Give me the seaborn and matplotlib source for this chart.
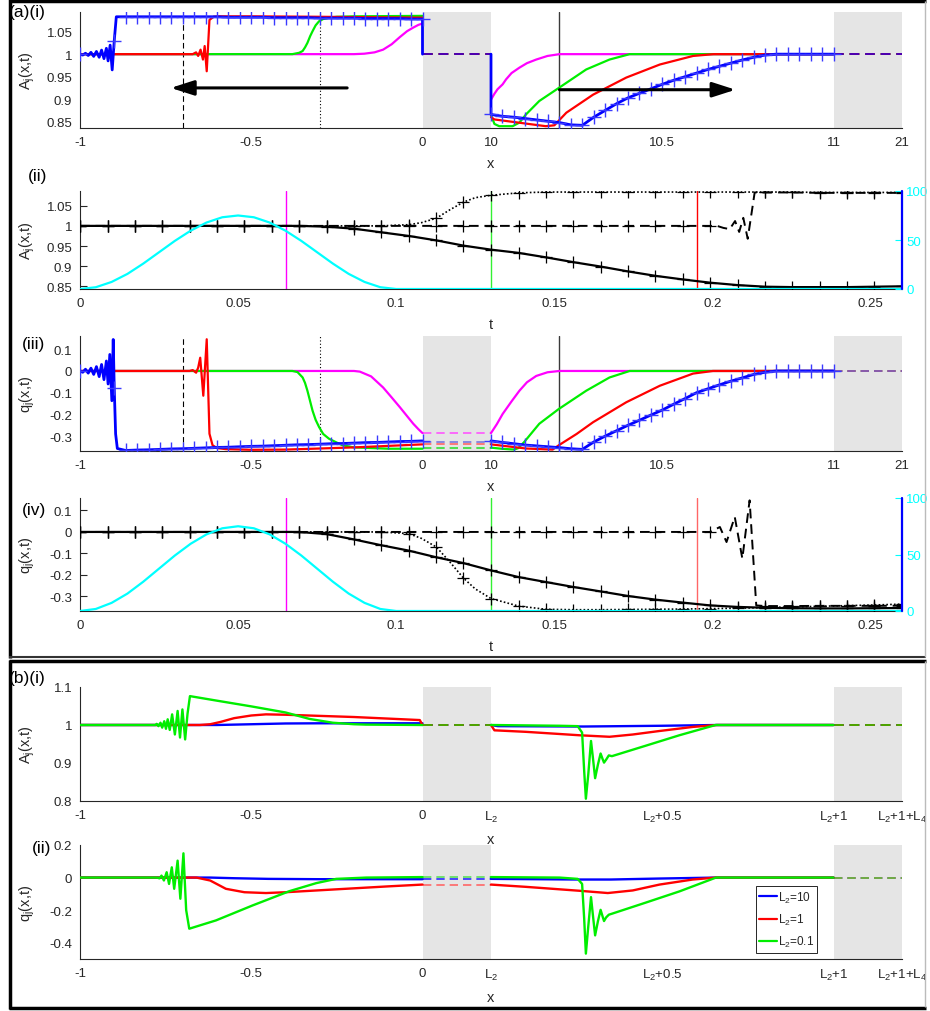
import numpy as np
import pandas as pd
import matplotlib
matplotlib.use("Agg")
import matplotlib.pyplot as plt
import seaborn as sns
from matplotlib.lines import Line2D

sns.set_style("white")
plt.rcParams["font.family"] = ["Liberation Sans", "DejaVu Sans"]
plt.rcParams["mathtext.default"] = "regular"

# ============================ DATA ============================
# tick labels of the composite x axis (pipe 1 | gap pipe | pipe 3 | gap pipe)
xtick_labels_a = ["-1", "-0.5", "0", "10", "10.5", "11", "21"]
xtick_labels_b = ["-1", "-0.5", "0", "L$_2$", "L$_2$+0.5", "L$_2$+1", "L$_2$+1+L$_4$"]
t_ticks = [0, 0.05, 0.1, 0.15, 0.2, 0.25]
t_tick_labels = ["0", "0.05", "0.1", "0.15", "0.2", "0.25"]

# grids where the '+' markers sit
x1_grid = [-1.0, -0.9667, -0.9333, -0.9, -0.8667, -0.8333, -0.8, -0.7667, -0.7333, -0.7,
           -0.6667, -0.6333, -0.6, -0.5667, -0.5333, -0.5, -0.4667, -0.4333, -0.4, -0.3667,
           -0.3333, -0.3, -0.2667, -0.2333, -0.2, -0.1667, -0.1333, -0.1, -0.0667, -0.0333, 0.0]
x3_grid = [10.0, 10.0333, 10.0667, 10.1, 10.1333, 10.1667, 10.2, 10.2333, 10.2667, 10.3,
           10.3333, 10.3667, 10.4, 10.4333, 10.4667, 10.5, 10.5333, 10.5667, 10.6, 10.6333,
           10.6667, 10.7, 10.7333, 10.7667, 10.8, 10.8333, 10.8667, 10.9, 10.9333, 10.9667, 11.0]
t_grid = [0, 0.0087, 0.0173, 0.026, 0.0347, 0.0433, 0.052, 0.0607, 0.0693, 0.078, 0.0867,
          0.0953, 0.104, 0.1127, 0.1213, 0.13, 0.1387, 0.1473, 0.156, 0.1647, 0.1733, 0.182,
          0.1907, 0.1993, 0.208, 0.2167, 0.2253, 0.234, 0.2427, 0.2513, 0.26]

# probe positions / snapshot times
probe_dashed_x = -0.7
probe_dotted_x = -0.3
probe_solid_x = 10.2
snap_t = [0.065, 0.13, 0.195, 0.26]

# ---------- (a)(i) A_j(x,t) ----------
# magenta
A_m_x1 = [-1.0, -0.2, -0.17, -0.14, -0.115, -0.09, -0.066, -0.045, -0.027, -0.012, 0.0]
A_m_y1 = [1.0, 1.0, 1.001, 1.004, 1.01, 1.022, 1.038, 1.051, 1.059, 1.065, 1.068]
A_m_x3 = [10.0, 10.01, 10.019, 10.034, 10.044, 10.06, 10.083, 10.105, 10.132, 10.165, 10.2, 11.0]
A_m_y3 = [0.899, 0.912, 0.922, 0.933, 0.944, 0.958, 0.97, 0.98, 0.988, 0.996, 1.0, 1.0]
# green
A_g_x1 = [-1.0, -0.38, -0.36, -0.35, -0.343, -0.336, -0.328, -0.321, -0.312, -0.302, -0.29,
          -0.273, -0.25, -0.2, 0.0]
A_g_y1 = [1.0, 1.0, 1.003, 1.007, 1.015, 1.025, 1.04, 1.051, 1.064, 1.073, 1.078, 1.081,
          1.083, 1.084, 1.085]
A_g_x3 = [10.0, 10.01, 10.024, 10.063, 10.083, 10.102, 10.141, 10.198, 10.278, 10.346, 10.405, 11.0]
A_g_y3 = [0.865, 0.845, 0.84, 0.84, 0.848, 0.866, 0.896, 0.925, 0.966, 0.988, 1.0, 1.0]
# red
A_r_x1 = [-1.0, -0.68, -0.671, -0.661, -0.655, -0.648, -0.641, -0.636, -0.63, -0.622, -0.61,
          -0.593, -0.5, -0.3, 0.0]
A_r_y1 = [1.0, 1.0, 1.0, 1.004, 0.996, 1.01, 0.988, 1.018, 0.962, 1.076, 1.083, 1.084, 1.084,
          1.083, 1.081]
A_r_x3 = [10.0, 10.01, 10.1, 10.16, 10.185, 10.22, 10.298, 10.395, 10.493, 10.59, 10.65, 11.0]
A_r_y3 = [0.86, 0.855, 0.846, 0.84, 0.842, 0.87, 0.91, 0.948, 0.977, 0.996, 1.0, 1.0]
# blue (with markers)
A_b_x1 = [-1.0, -0.992, -0.984, -0.976, -0.968, -0.96, -0.952, -0.944, -0.937, -0.93, -0.923,
          -0.918, -0.912, -0.906, -0.9, -0.894,
          -0.8667, -0.8333, -0.8, -0.7667, -0.7333, -0.7, -0.6667, -0.6333, -0.6, -0.5667,
          -0.5333, -0.5, -0.4667, -0.4333, -0.4, -0.3667, -0.3333, -0.3, -0.2667, -0.2333,
          -0.2, -0.1667, -0.1333, -0.1, -0.0667, -0.0333, 0.0, 0.0]
A_b_y1 = [1.0, 0.998, 1.002, 0.997, 1.004, 0.995, 1.006, 0.993, 1.009, 0.99, 1.013, 0.985,
          1.02, 0.965, 1.03, 1.083,
          1.083, 1.083, 1.083, 1.083, 1.083, 1.083, 1.083, 1.083, 1.083, 1.082, 1.082, 1.082,
          1.082, 1.081, 1.081, 1.081, 1.081, 1.080, 1.080, 1.080, 1.080, 1.079, 1.079, 1.079,
          1.079, 1.078, 1.078, 1.0]
A_b_x3 = [10.0, 10.0, 10.0333, 10.0667, 10.1, 10.1333, 10.1667, 10.2, 10.2333, 10.2667, 10.3,
          10.3333, 10.3667, 10.4, 10.4333, 10.4667, 10.5, 10.5333, 10.5667, 10.6, 10.6333,
          10.6667, 10.7, 10.7333, 10.7667, 10.8, 10.8333, 10.8667, 10.9, 10.9333, 10.9667, 11.0]
A_b_y3 = [1.0, 0.866, 0.862, 0.860, 0.857, 0.854, 0.851, 0.848, 0.843, 0.842, 0.860, 0.875,
          0.890, 0.903, 0.913, 0.923, 0.933, 0.942, 0.950, 0.958, 0.966, 0.973, 0.980, 0.987,
          0.993, 0.998, 1.0, 1.0, 1.0, 1.0, 1.0, 1.0]
A_gap = [1.0, 1.0, 1.0, 1.0]          # magenta, green, red, blue inside gap pipes

# ---------- (a)(iii) q_j(x,t) ----------
q_m_x1 = [-1.0, -0.2, -0.183, -0.15, -0.115, -0.09, -0.066, -0.045, -0.027, -0.012, 0.0]
q_m_y1 = [0.0, 0.0, -0.003, -0.025, -0.076, -0.122, -0.167, -0.208, -0.243, -0.268, -0.286]
q_m_x3 = [10.0, 10.017, 10.034, 10.06, 10.083, 10.105, 10.132, 10.165, 10.2, 11.0]
q_m_y3 = [-0.286, -0.245, -0.198, -0.14, -0.091, -0.052, -0.023, -0.006, 0.0, 0.0]
q_g_x1 = [-1.0, -0.38, -0.365, -0.35, -0.343, -0.336, -0.328, -0.321, -0.312, -0.302, -0.29,
          -0.273, -0.25, -0.234, -0.2, -0.1, 0.0]
q_g_y1 = [0.0, 0.0, -0.005, -0.03, -0.055, -0.091, -0.14, -0.183, -0.225, -0.258, -0.29,
          -0.312, -0.33, -0.342, -0.352, -0.358, -0.358]
q_g_x3 = [10.0, 10.03, 10.068, 10.08, 10.097, 10.12, 10.141, 10.198, 10.278, 10.346, 10.405, 11.0]
q_g_y3 = [-0.353, -0.358, -0.362, -0.355, -0.327, -0.283, -0.243, -0.175, -0.091, -0.03, 0.0, 0.0]
q_r_x1 = [-1.0, -0.68, -0.671, -0.661, -0.655, -0.649, -0.64, -0.63, -0.622, -0.613, -0.6,
          -0.574, -0.5, -0.4, -0.2, 0.0]
q_r_y1 = [0.0, 0.0, 0.004, -0.008, 0.015, 0.061, -0.114, 0.146, -0.289, -0.342, -0.355, -0.36,
          -0.363, -0.362, -0.352, -0.338]
q_r_x3 = [10.0, 10.102, 10.18, 10.198, 10.25, 10.298, 10.395, 10.493, 10.59, 10.648, 11.0]
q_r_y3 = [-0.338, -0.357, -0.362, -0.342, -0.29, -0.236, -0.144, -0.068, -0.012, 0.0, 0.0]
q_b_x1 = [-1.0, -0.992, -0.984, -0.976, -0.968, -0.96, -0.952, -0.944, -0.937, -0.93, -0.923,
          -0.918, -0.913, -0.907, -0.903, -0.9, -0.896, -0.891,
          -0.8667, -0.8333, -0.8, -0.7667, -0.7333, -0.7, -0.6667, -0.6333, -0.6, -0.5667,
          -0.5333, -0.5, -0.4667, -0.4333, -0.4, -0.3667, -0.3333, -0.3, -0.2667, -0.2333,
          -0.2, -0.1667, -0.1333, -0.1, -0.0667, -0.0333, 0.0]
q_b_y1 = [0.0, -0.006, 0.008, -0.01, 0.013, -0.016, 0.02, -0.026, 0.03, -0.04, 0.046, -0.06,
          0.076, -0.137, 0.145, -0.08, -0.29, -0.357,
          -0.366, -0.364, -0.363, -0.361, -0.359, -0.358, -0.356, -0.354, -0.352, -0.351,
          -0.349, -0.347, -0.346, -0.344, -0.342, -0.340, -0.339, -0.337, -0.335, -0.334,
          -0.332, -0.330, -0.329, -0.327, -0.325, -0.324, -0.322]
q_b_x3 = x3_grid
q_b_y3 = [-0.322, -0.329, -0.335, -0.341, -0.345, -0.349, -0.353, -0.358, -0.361, -0.327,
          -0.30, -0.275, -0.25, -0.227, -0.203, -0.18, -0.153, -0.127, -0.10, -0.082, -0.064,
          -0.047, -0.032, -0.016, -0.006, 0.0, 0.0, 0.0, 0.0, 0.0, 0.0]
q_gap_left = [-0.286, -0.355, -0.338, -0.325]   # magenta, green, red, blue
q_gap_right = [0.0, 0.0, 0.0, 0.0]

# ---------- (a)(ii) A at probes vs t ----------
A_solid = [1.0, 1.0, 1.0, 1.0, 1.0, 1.0, 1.0, 1.0, 1.0, 0.998, 0.993, 0.984, 0.975, 0.964,
           0.951, 0.941, 0.933, 0.922, 0.91, 0.899, 0.887, 0.876, 0.867, 0.859, 0.853, 0.849,
           0.848, 0.848, 0.848, 0.849, 0.85]
A_dotted_t = [0, 0.0087, 0.0173, 0.026, 0.0347, 0.0433, 0.052, 0.0607, 0.0693, 0.078, 0.0867,
              0.0953, 0.104, 0.108, 0.1127, 0.117, 0.1213, 0.125, 0.13, 0.1387, 0.1473, 0.156,
              0.1647, 0.1733, 0.182, 0.1907, 0.1993, 0.208, 0.2167, 0.2253, 0.234, 0.2427,
              0.2513, 0.26]
A_dotted = [1.0, 1.0, 1.0, 1.0, 1.0, 1.0, 1.0, 1.0, 1.0, 1.0, 1.0, 1.0, 1.003, 1.008, 1.019,
            1.04, 1.059, 1.07, 1.076, 1.082, 1.084, 1.084, 1.084, 1.084, 1.084, 1.084, 1.084,
            1.084, 1.084, 1.084, 1.083, 1.083, 1.083, 1.083]
A_dashed_t = [0, 0.0087, 0.0173, 0.026, 0.0347, 0.0433, 0.052, 0.0607, 0.0693, 0.078, 0.0867,
              0.0953, 0.104, 0.1127, 0.1213, 0.13, 0.1387, 0.1473, 0.156, 0.1647, 0.1733,
              0.182, 0.1907, 0.1993, 0.2015, 0.2035, 0.2055, 0.2072, 0.2085, 0.2098, 0.2112,
              0.2134, 0.2167, 0.2253, 0.234, 0.2427, 0.2513, 0.26]
A_dashed = [1.0, 1.0, 1.0, 1.0, 1.0, 1.0, 1.0, 1.0, 1.0, 1.0, 1.0, 1.0, 1.0, 1.0, 1.0, 1.0,
            1.0, 1.0, 1.0, 1.0, 1.0, 1.0, 1.0, 1.0, 1.0, 0.995, 0.992, 1.012, 0.985, 1.02,
            0.968, 1.083, 1.083, 1.083, 1.082, 1.082, 1.082, 1.082]

# ---------- (a)(iv) q at probes vs t ----------
q_solid = [0.0, 0.0, 0.0, 0.0, 0.0, 0.0, 0.0, 0.0, 0.0, -0.01, -0.035, -0.062, -0.087, -0.118,
           -0.145, -0.179, -0.21, -0.233, -0.256, -0.277, -0.298, -0.315, -0.329, -0.342,
           -0.349, -0.353, -0.355, -0.356, -0.356, -0.355, -0.354]
q_dotted = [0.0, 0.0, 0.0, 0.0, 0.0, 0.0, 0.0, 0.0, 0.0, 0.0, 0.0, 0.0, -0.008, -0.03, -0.07,
            -0.14, -0.215, -0.265, -0.31, -0.345, -0.36, -0.362, -0.362, -0.361, -0.36,
            -0.359, -0.357, -0.355, -0.352, -0.349, -0.346, -0.343, -0.340, -0.336]
q_dashed_t = [0, 0.0087, 0.0173, 0.026, 0.0347, 0.0433, 0.052, 0.0607, 0.0693, 0.078, 0.0867,
              0.0953, 0.104, 0.1127, 0.1213, 0.13, 0.1387, 0.1473, 0.156, 0.1647, 0.1733,
              0.182, 0.1907, 0.1993, 0.2024, 0.2045, 0.2071, 0.2095, 0.2118, 0.2139, 0.2167,
              0.2253, 0.234, 0.2427, 0.2513, 0.26]
q_dashed = [0.0, 0.0, 0.0, 0.0, 0.0, 0.0, 0.0, 0.0, 0.0, 0.0, 0.0, 0.0, 0.0, 0.0, 0.0, 0.0,
            0.0, 0.0, 0.0, 0.0, 0.0, 0.0, 0.0, 0.0, 0.023, -0.047, 0.07, -0.124, 0.147, -0.342,
            -0.345, -0.345, -0.344, -0.344, -0.344, -0.343]

# inflow pulse (right axis, %)
t_pulse = [0, 0.005, 0.01, 0.015, 0.02, 0.025, 0.03, 0.035, 0.04, 0.045, 0.05, 0.055, 0.06,
           0.065, 0.07, 0.075, 0.08, 0.085, 0.09, 0.095, 0.1, 0.26]
pulse = [0, 1.8, 7.2, 15.4, 25.9, 37.5, 49.1, 59.5, 67.8, 73.2, 75.0, 73.2, 67.8, 59.5, 49.1,
         37.5, 25.9, 15.4, 7.2, 1.8, 0, 0]

# ---------- (b) comparison of L2 ----------
legend_labels = ["L$_2$=10", "L$_2$=1", "L$_2$=0.1"]
# (b)(i) A; pipe-3 abscissa given as offset s = x - L2
bA_blue_x1 = [-1.0, -0.6, -0.5, -0.4, -0.3, 0.0]
bA_blue_y1 = [1.0, 1.0, 1.002, 1.004, 1.0045, 1.0045]
bA_blue_s3 = [0.0, 0.02, 0.27, 0.5, 0.66, 1.0]
bA_blue_y3 = [1.0, 0.997, 0.996, 0.998, 1.0, 1.0]
bA_red_x1 = [-1.0, -0.65, -0.62, -0.59, -0.55, -0.5, -0.457, -0.4, -0.2, -0.008, 0.0]
bA_red_y1 = [1.0, 1.0, 1.002, 1.008, 1.018, 1.025, 1.028, 1.027, 1.021, 1.013, 1.0]
bA_red_s3 = [0.0, 0.01, 0.102, 0.258, 0.346, 0.414, 0.49, 0.59, 0.66, 1.0]
bA_red_y3 = [1.0, 0.986, 0.982, 0.973, 0.969, 0.975, 0.984, 0.995, 1.0, 1.0]
bA_green_x1 = [-1.0, -0.78, -0.776, -0.771, -0.765, -0.76, -0.754, -0.749, -0.744, -0.738,
               -0.731, -0.723, -0.715, -0.708, -0.701, -0.693, -0.686, -0.679, -0.6, -0.5,
               -0.4, -0.33, -0.262, -0.2, -0.165, 0.0]
bA_green_y1 = [1.0, 1.0, 1.003, 0.997, 1.006, 0.993, 1.01, 0.99, 1.015, 0.987, 1.028, 0.975,
               1.037, 0.967, 1.041, 0.962, 1.03, 1.076, 1.064, 1.049, 1.033, 1.016, 1.006,
               1.002, 1.001, 1.0]
bA_green_s3 = [0.0, 0.1, 0.2, 0.253, 0.266, 0.272, 0.277, 0.284, 0.292, 0.298, 0.304, 0.312,
               0.32, 0.326, 0.33, 0.337, 0.344, 0.353, 0.45, 0.55, 0.656, 1.0]
bA_green_y3 = [1.0, 0.999, 0.998, 0.997, 0.98, 0.88, 0.806, 0.87, 0.958, 0.91, 0.86, 0.895,
               0.925, 0.91, 0.901, 0.91, 0.92, 0.918, 0.945, 0.973, 1.0, 1.0]
bA_gap = [1.0, 1.0, 1.0]              # blue, red, green
# (b)(ii) q
bq_blue_x1 = [-1.0, -0.62, -0.55, -0.45, -0.3, 0.0]
bq_blue_y1 = [0.0, 0.0, -0.004, -0.008, -0.01, -0.01]
bq_blue_s3 = [0.0, 0.26, 0.35, 0.49, 0.66, 1.0]
bq_blue_y3 = [-0.008, -0.012, -0.012, -0.006, 0.0, 0.0]
bq_red_x1 = [-1.0, -0.66, -0.62, -0.574, -0.52, -0.457, -0.4, -0.3, -0.2, -0.1, 0.0]
bq_red_y1 = [0.0, 0.0, -0.018, -0.069, -0.09, -0.095, -0.09, -0.078, -0.066, -0.054, -0.043]
bq_red_s3 = [0.0, 0.102, 0.258, 0.341, 0.414, 0.492, 0.589, 0.657, 1.0]
bq_red_y3 = [-0.043, -0.057, -0.081, -0.095, -0.079, -0.043, -0.012, 0.0, 0.0]
bq_green_x1 = [-1.0, -0.775, -0.768, -0.762, -0.755, -0.747, -0.74, -0.732, -0.725, -0.715,
               -0.707, -0.698, -0.69, -0.681, -0.603, -0.496, -0.388, -0.31, -0.252, -0.164, 0.0]
bq_green_y1 = [0.0, 0.0, -0.005, 0.012, -0.018, 0.033, -0.039, 0.063, -0.069, 0.104, -0.13,
               0.149, -0.2, -0.314, -0.263, -0.171, -0.083, -0.034, -0.008, 0.0, 0.003]
bq_green_s3 = [0.0, 0.2, 0.253, 0.266, 0.272, 0.277, 0.284, 0.292, 0.298, 0.304, 0.312, 0.32,
               0.326, 0.33, 0.336, 0.344, 0.353, 0.45, 0.55, 0.657, 1.0]
bq_green_y3 = [0.003, 0.0, -0.008, -0.039, -0.25, -0.467, -0.3, -0.12, -0.24, -0.355, -0.27,
               -0.198, -0.24, -0.267, -0.245, -0.228, -0.222, -0.155, -0.085, 0.0, 0.0]
bq_gap_left = [-0.008, -0.043, 0.003]   # blue, red, green
bq_gap_right = [0.0, 0.0, 0.0]

# annotation arrows (start, end, level)
arrow_left = (-0.22, -0.735, 0.925)
arrow_right = (10.2, 10.714, 0.921)

# ============================ STYLE / LAYOUT ============================
MAG, GRN, RED, BLU, CYA = "#ff00ff", "#00ee00", "#ff0000", "#0000ff", "#00ffff"
AXC = "#262626"
GRAY = "#e5e5e5"
W, H = 930, 1012
XT_POS = [-1, -0.5, 0, 0.2, 0.7, 1.2, 1.4]    # positions of composite ticks
GAP_L, P3_0, GAP_R = (0.0, 0.2), 0.2, (1.2, 1.4)


def u3(x):
    """pipe-3 physical x -> composite axis coordinate"""
    return P3_0 + (np.asarray(x, float) - 10.0)


def u3s(s):
    return P3_0 + np.asarray(s, float)


def rect(top, bottom, left=80, right=902):
    return [left / W, 1 - bottom / H, (right - left) / W, (bottom - top) / H]


def draw(ax, x, y, color, lw=1.6, ls="-", alpha=1.0, z=3):
    sns.lineplot(x=np.asarray(x, float), y=np.asarray(y, float), ax=ax, color=color,
                 linewidth=lw, linestyle=ls, alpha=alpha, sort=False, estimator=None,
                 legend=False, zorder=z)


def plus(ax, x, y, color, s=60, lw=1.0, z=4):
    sns.scatterplot(x=np.asarray(x, float), y=np.asarray(y, float), ax=ax, marker="+",
                    s=s, color=color, linewidth=lw, legend=False, zorder=z)


def grid_mask(x, grid, keep="first"):
    x = np.asarray(x, float)
    g = np.asarray(grid, float)
    on = np.array([np.min(np.abs(g - v)) < 5e-4 for v in x])
    dup = pd.Series(np.round(x, 4)).duplicated(keep=keep).to_numpy()
    return on & ~dup


def style(ax, xlim, xticks, xlabels, ylim, yticks, ylabels, xlabel, ylabel):
    ax.set_xlim(*xlim)
    ax.set_ylim(*ylim)
    ax.set_xticks(xticks)
    ax.set_xticklabels(xlabels)
    ax.set_yticks(yticks)
    ax.set_yticklabels(ylabels)
    for s in ("top", "right"):
        ax.spines[s].set_visible(False)
    for s in ("left", "bottom"):
        ax.spines[s].set_color(AXC)
        ax.spines[s].set_linewidth(0.8)
    ax.tick_params(direction="in", length=5, width=0.8, colors=AXC, labelsize=9.5, pad=5.5)
    ax.set_xlabel(xlabel, fontsize=10.5, color=AXC, labelpad=6)
    ax.set_ylabel(ylabel, fontsize=10.5, color=AXC)
    ax.yaxis.set_label_coords(-0.052, 0.5)


def gaps(ax):
    ax.axvspan(*GAP_L, color=GRAY, lw=0, zorder=0)
    ax.axvspan(*GAP_R, color=GRAY, lw=0, zorder=0)


def gap_lines(ax, values_left, values_right, colors, lw=1.3):
    n = len(colors)
    for i, (vl, vr, c) in enumerate(zip(values_left, values_right, colors)):
        a = 0.7 if i == n - 1 else 1.0
        draw(ax, list(GAP_L), [vl, vl], c, lw=lw, ls=(0, (5, 3)), alpha=a, z=2)
        draw(ax, list(GAP_R), [vr, vr], c, lw=lw, ls=(0, (5, 3)), alpha=a, z=2)


def probes(ax):
    ax.axvline(probe_dashed_x, color="k", lw=0.8, ls=(0, (5, 3)), zorder=2)
    ax.axvline(probe_dotted_x, color="k", lw=0.8, ls=(0, (1, 2)), zorder=2)
    ax.axvline(float(u3(probe_solid_x)), color="#3a3a3a", lw=1.0, zorder=2)


fig = plt.figure(figsize=(W / 100, H / 100), dpi=100)

# ---------------- (a)(i) ----------------
ax = fig.add_axes(rect(13, 129))
gaps(ax)
probes(ax)
gap_lines(ax, A_gap, A_gap, [MAG, GRN, RED, BLU], lw=1.4)
for x1, y1, x3, y3, c in [(A_m_x1, A_m_y1, A_m_x3, A_m_y3, MAG),
                          (A_g_x1, A_g_y1, A_g_x3, A_g_y3, GRN),
                          (A_r_x1, A_r_y1, A_r_x3, A_r_y3, RED)]:
    draw(ax, x1, y1, c)
    draw(ax, u3(x3), y3, c)
draw(ax, A_b_x1, A_b_y1, BLU, lw=2.0)
draw(ax, u3(A_b_x3), A_b_y3, BLU, lw=2.0)
m1 = grid_mask(A_b_x1, x1_grid, "first")
m3 = grid_mask(A_b_x3, x3_grid, "last")
plus(ax, np.asarray(A_b_x1)[m1], np.asarray(A_b_y1)[m1], "#3a3aff", s=110)
plus(ax, u3(np.asarray(A_b_x3)[m3]), np.asarray(A_b_y3)[m3], "#3a3aff", s=110)
ax.annotate("", xy=(arrow_left[1], arrow_left[2]), xytext=(arrow_left[0], arrow_left[2]),
            arrowprops=dict(arrowstyle="-|>,head_length=1.4,head_width=0.45", color="k",
                            lw=2.2, shrinkA=0, shrinkB=0), zorder=6)
ax.annotate("", xy=(float(u3(arrow_right[1])), arrow_right[2]),
            xytext=(float(u3(arrow_right[0])), arrow_right[2]),
            arrowprops=dict(arrowstyle="-|>,head_length=1.4,head_width=0.45", color="k",
                            lw=2.2, shrinkA=0, shrinkB=0), zorder=6)
style(ax, (-1, 1.4), XT_POS, xtick_labels_a, (0.836, 1.0936),
      [0.85, 0.9, 0.95, 1.0, 1.05], ["0.85", "0.9", "0.95", "1", "1.05"], "x", "A$_j$(x,t)")


def time_panel(top, bottom, ylim, yticks, ylabels, ylabel, solid, dotted_t, dotted,
               dashed_t, dashed, red_alpha):
    ax = fig.add_axes(rect(top, bottom))
    for t, c, a in zip(snap_t[:3], [MAG, GRN, RED], [1.0, 0.8, red_alpha]):
        ax.axvline(t, color=c, lw=1.0, alpha=a, zorder=2)
    draw(ax, t_grid, solid, "k", lw=1.6)
    draw(ax, dotted_t, dotted, "k", lw=1.2, ls=(0, (1, 1.3)))
    draw(ax, dashed_t, dashed, "k", lw=1.4, ls=(0, (5, 3)))
    for tt, yy in [(t_grid, solid), (dotted_t, dotted), (dashed_t, dashed)]:
        m = grid_mask(tt, t_grid)
        plus(ax, np.asarray(tt, float)[m], np.asarray(yy, float)[m], "k", s=70, lw=0.9)
    style(ax, (0, 0.26), t_ticks, t_tick_labels, ylim, yticks, ylabels, "t", ylabel)
    axr = ax.twinx()
    draw(axr, t_pulse, pulse, CYA, lw=1.6, z=3)
    axr.set_ylim(0, 100)
    axr.set_xlim(0, 0.26)
    axr.set_yticks([0, 50, 100])
    axr.set_yticklabels(["0", "50", "100"])
    axr.set_ylabel("")
    for s in ("top", "left", "bottom"):
        axr.spines[s].set_visible(False)
    axr.spines["right"].set_color(CYA)
    axr.tick_params(axis="y", direction="in", length=5, width=0.8, colors=CYA,
                    labelsize=9.5, pad=3)
    axr.axvline(snap_t[3], color=BLU, lw=1.6, clip_on=False, zorder=5)
    return ax


# ---------------- (a)(ii) ----------------
time_panel(192, 290, (0.8433, 1.0866), [0.85, 0.9, 0.95, 1.0, 1.05],
           ["0.85", "0.9", "0.95", "1", "1.05"], "A$_j$(x,t)", A_solid, A_dotted_t,
           A_dotted, A_dashed_t, A_dashed, 1.0)

# ---------------- (a)(iii) ----------------
ax = fig.add_axes(rect(337, 452))
gaps(ax)
probes(ax)
gap_lines(ax, q_gap_left, q_gap_right, ["#ff55ff", "#33dd33", "#ff6666", "#4b4bdd"], lw=1.2)
for x1, y1, x3, y3, c in [(q_m_x1, q_m_y1, q_m_x3, q_m_y3, MAG),
                          (q_g_x1, q_g_y1, q_g_x3, q_g_y3, GRN),
                          (q_r_x1, q_r_y1, q_r_x3, q_r_y3, RED)]:
    draw(ax, x1, y1, c)
    draw(ax, u3(x3), y3, c)
draw(ax, q_b_x1, q_b_y1, BLU, lw=2.0)
draw(ax, u3(q_b_x3), q_b_y3, BLU, lw=2.0)
m1 = grid_mask(q_b_x1, x1_grid, "first")
m3 = grid_mask(q_b_x3, x3_grid, "last")
plus(ax, np.asarray(q_b_x1)[m1], np.asarray(q_b_y1)[m1], "#3a3aff", s=110)
plus(ax, u3(np.asarray(q_b_x3)[m3]), np.asarray(q_b_y3)[m3], "#3a3aff", s=110)
style(ax, (-1, 1.4), XT_POS, xtick_labels_a, (-0.3685, 0.161),
      [-0.3, -0.2, -0.1, 0.0, 0.1], ["-0.3", "-0.2", "-0.1", "0", "0.1"], "x", "q$_j$(x,t)")

# ---------------- (a)(iv) ----------------
time_panel(499, 612, (-0.368, 0.158), [-0.3, -0.2, -0.1, 0.0, 0.1],
           ["-0.3", "-0.2", "-0.1", "0", "0.1"], "q$_j$(x,t)", q_solid, A_dotted_t,
           q_dotted, q_dashed_t, q_dashed, 0.6)

# ---------------- (b)(i) ----------------
ax = fig.add_axes(rect(688, 802))
gaps(ax)
gap_lines(ax, bA_gap, bA_gap, [BLU, RED, GRN], lw=1.4)
for x1, y1, s3, y3, c in [(bA_blue_x1, bA_blue_y1, bA_blue_s3, bA_blue_y3, BLU),
                          (bA_red_x1, bA_red_y1, bA_red_s3, bA_red_y3, RED),
                          (bA_green_x1, bA_green_y1, bA_green_s3, bA_green_y3, GRN)]:
    draw(ax, x1, y1, c, lw=1.7)
    draw(ax, u3s(s3), y3, c, lw=1.7)
style(ax, (-1, 1.4), XT_POS, xtick_labels_b, (0.8, 1.1),
      [0.8, 0.9, 1.0, 1.1], ["0.8", "0.9", "1", "1.1"], "x", "A$_j$(x,t)")

# ---------------- (b)(ii) ----------------
ax = fig.add_axes(rect(846, 960))
gaps(ax)
gap_lines(ax, bq_gap_left, bq_gap_right, ["#2a2aff", "#ff6666", "#22dd22"], lw=1.2)
for x1, y1, s3, y3, c in [(bq_blue_x1, bq_blue_y1, bq_blue_s3, bq_blue_y3, BLU),
                          (bq_red_x1, bq_red_y1, bq_red_s3, bq_red_y3, RED),
                          (bq_green_x1, bq_green_y1, bq_green_s3, bq_green_y3, GRN)]:
    draw(ax, x1, y1, c, lw=1.7)
    draw(ax, u3s(s3), y3, c, lw=1.7)
style(ax, (-1, 1.4), XT_POS, xtick_labels_b, (-0.5, 0.2),
      [-0.4, -0.2, 0.0, 0.2], ["-0.4", "-0.2", "0", "0.2"], "x", "q$_j$(x,t)")
handles = [Line2D([0], [0], color=c, lw=1.6) for c in (BLU, RED, GRN)]
leg = ax.legend(handles, legend_labels, loc="upper left", bbox_to_anchor=(0.822, 0.64),
                fontsize=8.5, frameon=True, fancybox=False, edgecolor=AXC, framealpha=1,
                handlelength=1.5, handletextpad=0.05, borderpad=0.3, labelspacing=0.6,
                borderaxespad=0)
leg.get_frame().set_linewidth(0.7)

# ---------------- panel labels & boxes ----------------
for txt, x, y in [("(a)(i)", 9, 12.5), ("(ii)", 28, 177), ("(iii)", 22, 345),
                  ("(iv)", 22, 510), ("(b)(i)", 9, 679), ("(ii)", 32, 848)]:
    fig.text(x / W, 1 - y / H, txt, fontsize=12.5, ha="left", va="center", color="k")


def fline(x0, y0, x1, y1, color="k", lw=2.5):
    fig.add_artist(Line2D([x0 / W, x1 / W], [1 - y0 / H, 1 - y1 / H], color=color, lw=lw,
                          transform=fig.transFigure, solid_capstyle="butt"))


fline(9, 1.5, 926, 1.5)
fline(10, 0, 10, 659)
fline(9, 658, 926, 658, color="#333333", lw=1.5)
fline(925, 2, 925, 658, color="#bbbbbb", lw=1.0)
fline(9, 662, 926, 662)
fline(10, 661, 10, 1010)
fline(9, 1008.5, 926, 1008.5)
fline(925, 662, 925, 1008, color="#bbbbbb", lw=1.0)

fig.savefig("out.png", dpi=100)
